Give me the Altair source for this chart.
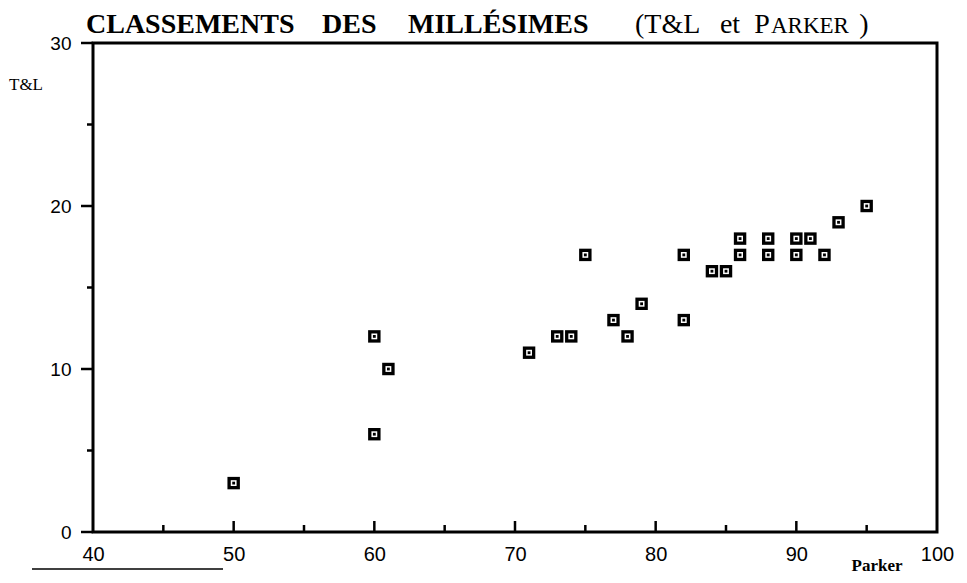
import altair as alt
import pandas as pd

# Data
parker = [50, 60, 60, 61, 71, 73, 74, 78, 77, 82, 79, 84, 85, 75, 82, 86, 88, 90, 92, 86, 88, 90, 91, 93, 95]
tl = [3, 6, 12, 10, 11, 12, 12, 12, 13, 13, 14, 16, 16, 17, 17, 17, 17, 17, 17, 18, 18, 18, 18, 19, 20]

x_labels = [40, 50, 60, 70, 80, 90, 100]
y_labels = [0, 10, 20, 30]
x_major = [50, 60, 70, 80, 90]
x_minor = [45, 55, 65, 75, 85, 95]
y_major = [0, 10, 20, 30]
y_minor = [5, 15, 25]

W, H = 844, 489

xs = alt.Scale(domain=[40, 100], nice=False, zero=False)
ys = alt.Scale(domain=[0, 30], nice=False, zero=False)

xaxis = alt.Axis(values=x_labels, ticks=False, domain=False, grid=False, labelFontSize=20,
                 labelFont="Liberation Sans", labelColor="black", labelPadding=12,
                 labelFlush=False, labelOverlap=False, tickSize=0, title=None)
yaxis = alt.Axis(values=y_labels, ticks=False, domain=False, grid=False, labelFontSize=19,
                 labelFont="Liberation Sans", labelColor="black", labelPadding=22,
                 labelFlush=False, labelOverlap=False, tickSize=0, title=None)


def X(f):
    return alt.X(f, scale=xs, axis=xaxis, title=None)


def Y(f):
    return alt.Y(f, scale=ys, axis=yaxis, title=None)


df = pd.DataFrame({"Parker": parker, "TL": tl})
base = alt.Chart(df)

outer = base.mark_point(shape="square", filled=True, color="black", size=155, opacity=1).encode(
    x=X("Parker:Q"), y=Y("TL:Q"))
white = base.mark_point(shape="square", filled=True, color="white", size=34, opacity=1).encode(
    x=X("Parker:Q"), y=Y("TL:Q"))
center = base.mark_point(shape="square", filled=True, color="black", size=8, opacity=1).encode(
    x=X("Parker:Q"), y=Y("TL:Q"))

xt_major = alt.Chart(pd.DataFrame({"v": x_major})).mark_rule(color="black", strokeWidth=2.5).encode(
    x=X("v:Q"), y=alt.value(H), y2=alt.value(H - 11))
xt_minor = alt.Chart(pd.DataFrame({"v": x_minor})).mark_rule(color="black", strokeWidth=2.5).encode(
    x=X("v:Q"), y=alt.value(H), y2=alt.value(H - 7))
yt_major = alt.Chart(pd.DataFrame({"v": y_major})).mark_rule(color="black", strokeWidth=2.5).encode(
    y=Y("v:Q"), x=alt.value(-12), x2=alt.value(0))
yt_minor = alt.Chart(pd.DataFrame({"v": y_minor})).mark_rule(color="black", strokeWidth=2.5).encode(
    y=Y("v:Q"), x=alt.value(-6), x2=alt.value(0))

one = pd.DataFrame({"k": [0]})
SERIF = "Liberation Serif"


def txt(s, x, y, size, weight="normal", align="left", font=SERIF):
    return alt.Chart(one).mark_text(font=font, fontSize=size, fontWeight=weight, align=align,
                                    baseline="alphabetic", color="black").encode(
        x=alt.value(x), y=alt.value(y), text=alt.value(s))


TY = -10
title_parts = [
    txt("CLASSEMENTS", -7, TY, 28, "bold"),
    txt("DES", 229, TY, 28, "bold"),
    txt("MILLÉSIMES", 315, TY, 28, "bold"),
    txt("(T&L", 542, TY, 28),
    txt("et", 637, TY, 28, align="center"),
    txt("P", 669, TY, 28, align="center"),
    txt("ARKER", 678, TY, 23),
    txt(")", 771, TY, 28, align="center"),
]

ytitle = txt("T&L", -67, 47, 17, align="center")
xtitle = txt("Parker", 784, 528, 17, "bold", align="center")

underline = alt.Chart(one).mark_rule(color="black", strokeWidth=1.5).encode(
    x=alt.value(-61), x2=alt.value(130), y=alt.value(526))

chart = alt.layer(
    xt_major, xt_minor, yt_major, yt_minor, outer, white, center,
    ytitle, xtitle, underline, *title_parts
).properties(
    width=W, height=H,
    background="white",
    autosize=alt.AutoSizeParams(type="none"),
    padding={"left": 85, "top": 35, "right": 22, "bottom": 43},
).configure_view(
    stroke="black", strokeWidth=3
)

chart.save("out.html", embed_options={"renderer": "svg", "actions": False})
